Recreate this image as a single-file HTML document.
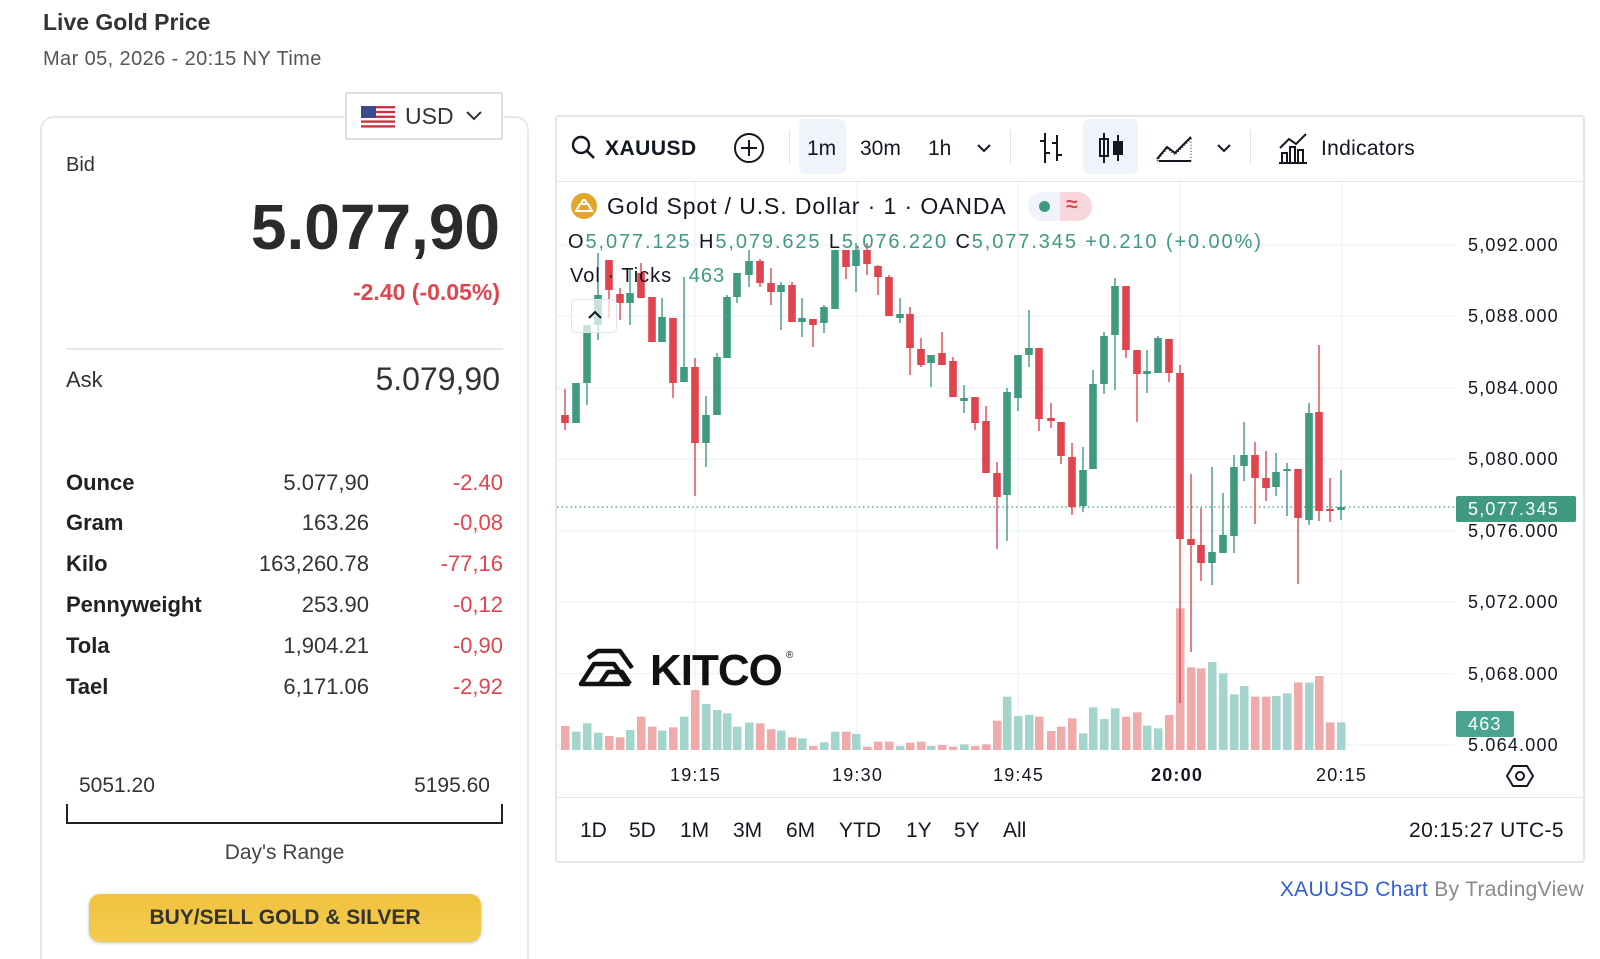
<!DOCTYPE html>
<html style="overflow:hidden;width:1600px;height:959px"><head><meta charset="utf-8">
<style>
*{margin:0;padding:0;box-sizing:border-box}
body{width:1600px;height:959px;background:#fff;font-family:"Liberation Sans",sans-serif;position:relative;overflow:hidden;color:#222}
.a{position:absolute;white-space:nowrap}
.row{position:absolute;left:66px;width:437px;height:30px;font-size:22px}
.row b{position:absolute;left:0;top:0;color:#222}
.row .v{position:absolute;right:134px;top:0;color:#333}
.row .c{position:absolute;right:0;top:0;color:#e0444f}
.tb{position:absolute;top:137px;font-size:21px;color:#131722}
.rb{position:absolute;top:819px;font-size:21px;color:#131722}
.pl{position:absolute;left:1468px;font-size:18px;color:#131722;letter-spacing:1.2px}
.tl{position:absolute;top:765px;font-size:18px;color:#131722;letter-spacing:1.2px}
</style></head><body>
<div class="a" style="left:43px;top:9px;font-size:23px;font-weight:bold;color:#333">Live Gold Price</div>
<div class="a" style="left:43px;top:48px;font-size:20px;color:#555;letter-spacing:0.4px">Mar 05, 2026 - 20:15 NY Time</div>

<div class="a" style="left:40px;top:116px;width:489px;height:843px;border:2px solid #e8e8e8;border-bottom:none;border-radius:14px 14px 0 0"></div>
<div class="a" style="left:345px;top:92px;width:158px;height:48px;border:2px solid #ddd;border-radius:3px;background:#fff">
 <svg class="a" style="left:14px;top:12px" width="34" height="24"><rect width="34" height="24" fill="#fff"/><g fill="#c8343f"><rect y="0" width="34" height="2.4"/><rect y="4.8" width="34" height="2.4"/><rect y="9.6" width="34" height="2.4"/><rect y="14.4" width="34" height="2.4"/><rect y="19.2" width="34" height="2.4"/></g><rect width="15" height="12" fill="#3a4a8c"/></svg>
 <div class="a" style="left:58px;top:9px;font-size:23px;color:#333">USD</div>
 <svg class="a" style="left:118px;top:16px" width="18" height="12"><path d="M2 2 L9 9 L16 2" stroke="#333" stroke-width="2" fill="none"/></svg>
</div>
<div class="a" style="left:66px;top:154px;font-size:20px;color:#333">Bid</div>
<div class="a" style="right:1100px;top:190px;font-size:64px;font-weight:bold;color:#2b2b2b">5.077,90</div>
<div class="a" style="right:1100px;top:279px;font-size:23px;font-weight:bold;color:#e0444f">-2.40 (-0.05%)</div>
<div class="a" style="left:66px;top:348px;width:437px;height:2px;background:#e8e8e8"></div>
<div class="a" style="left:66px;top:367px;font-size:22px;color:#333">Ask</div>
<div class="a" style="right:1100px;top:361px;font-size:32px;color:#333">5.079,90</div>

<div class="row" style="top:470px"><b>Ounce</b><span class="v">5.077,90</span><span class="c">-2.40</span></div>
<div class="row" style="top:510px"><b>Gram</b><span class="v">163.26</span><span class="c">-0,08</span></div>
<div class="row" style="top:551px"><b>Kilo</b><span class="v">163,260.78</span><span class="c">-77,16</span></div>
<div class="row" style="top:592px"><b>Pennyweight</b><span class="v">253.90</span><span class="c">-0,12</span></div>
<div class="row" style="top:633px"><b>Tola</b><span class="v">1,904.21</span><span class="c">-0,90</span></div>
<div class="row" style="top:674px"><b>Tael</b><span class="v">6,171.06</span><span class="c">-2,92</span></div>

<div class="a" style="left:79px;top:774px;font-size:21px;color:#333">5051.20</div>
<div class="a" style="right:1110px;top:774px;font-size:21px;color:#333">5195.60</div>
<div class="a" style="left:66px;top:804px;width:437px;height:20px;border:2px solid #222;border-top:none"></div>
<div class="a" style="left:0;width:569px;text-align:center;top:841px;font-size:21px;color:#444">Day's Range</div>
<div class="a" style="left:89px;top:894px;width:392px;height:48px;border-radius:11px;background:linear-gradient(#f0c23e,#f3cc4f);box-shadow:0 1px 3px rgba(0,0,0,.25);text-align:center;line-height:48px;font-size:21px;font-weight:bold;color:#333">BUY/SELL GOLD &amp; SILVER</div>

<!-- chart card -->
<div class="a" style="left:555px;top:115px;width:1030px;height:748px;border:2px solid #e6e6e6;border-radius:4px"></div>
<div class="a" style="left:557px;top:181px;width:1026px;height:1px;background:#e6e6e6"></div>
<div class="a" style="left:557px;top:797px;width:1026px;height:1px;background:#e6e6e6"></div>

<svg class="a" style="left:570px;top:134px" width="28" height="28"><circle cx="11" cy="11" r="8" stroke="#131722" stroke-width="2.4" fill="none"/><path d="M17 17 L24 24" stroke="#131722" stroke-width="2.6"/></svg>
<div class="tb" style="left:605px;font-weight:bold;width:92px;overflow:hidden;letter-spacing:0.5px">XAUUSD</div>
<svg class="a" style="left:733px;top:132px" width="32" height="32"><circle cx="16" cy="16" r="14" stroke="#131722" stroke-width="2" fill="none"/><path d="M16 8V24M8 16H24" stroke="#131722" stroke-width="2"/></svg>
<div class="a" style="left:789px;top:130px;width:1px;height:34px;background:#e0e3eb"></div>
<div class="a" style="left:799px;top:119px;width:47px;height:55px;background:#f0f3fa;border-radius:6px"></div>
<div class="tb" style="left:807px">1m</div>
<div class="tb" style="left:860px">30m</div>
<div class="tb" style="left:928px">1h</div>
<svg class="a" style="left:976px;top:142px" width="16" height="12"><path d="M2 3L8 9L14 3" stroke="#131722" stroke-width="2" fill="none"/></svg>
<div class="a" style="left:1010px;top:130px;width:1px;height:34px;background:#e0e3eb"></div>
<svg class="a" style="left:1036px;top:131px" width="30" height="34"><path d="M9 2V32M4 10H9M9 22H14M21 4V30M16 12H21M21 24H26" stroke="#131722" stroke-width="2" fill="none"/></svg>
<div class="a" style="left:1083px;top:119px;width:55px;height:55px;background:#f0f3fa;border-radius:6px"></div>
<svg class="a" style="left:1096px;top:131px" width="30" height="34"><path d="M8 2V32M22 4V30" stroke="#131722" stroke-width="2"/><rect x="4" y="8" width="8" height="17" stroke="#131722" stroke-width="2" fill="none"/><rect x="18" y="11" width="8" height="12" stroke="#131722" stroke-width="2" fill="#131722"/></svg>
<svg class="a" style="left:1155px;top:133px" width="40" height="30"><path d="M2 26L12 14L20 20L36 4" stroke="#131722" stroke-width="2" fill="none"/><path d="M2 28L12 16L20 22L36 6V28Z" fill="none" stroke="#131722" stroke-width="1" stroke-dasharray="1 2"/><path d="M4 28L36 28" stroke="#131722" stroke-width="2"/></svg>
<svg class="a" style="left:1216px;top:142px" width="16" height="12"><path d="M2 3L8 9L14 3" stroke="#131722" stroke-width="2" fill="none"/></svg>
<div class="a" style="left:1250px;top:130px;width:1px;height:34px;background:#e0e3eb"></div>
<svg class="a" style="left:1276px;top:131px" width="34" height="34"><path d="M3 32H31M6 32V22H11V32M14 32V16H19V32M22 32V19H27V32M4 17L13 8L20 13L30 3" stroke="#131722" stroke-width="2" fill="none"/></svg>
<div class="tb" style="left:1321px;letter-spacing:0.3px">Indicators</div>

<svg class="a" style="left:0;top:0" width="1600" height="959" id="ch"></svg>

<!-- legend -->
<svg class="a" style="left:570px;top:192px" width="28" height="28"><circle cx="14" cy="14" r="13" fill="#e4a62a"/><path d="M6 19L10 12H18L22 19Z M11 12 L13 8 H15 L17 12" fill="none" stroke="#fff" stroke-width="2"/></svg>
<div class="a" style="left:607px;top:193px;font-size:23px;color:#131722;letter-spacing:0.9px">Gold Spot / U.S. Dollar · 1 · OANDA</div>
<div class="a" style="left:1028px;top:192px;width:64px;height:29px;border-radius:15px;background:#f0f3fa;overflow:hidden"><div class="a" style="left:32px;top:0;width:32px;height:29px;background:#f8d7dc"></div><div class="a" style="left:11px;top:9px;width:11px;height:11px;border-radius:6px;background:#3f9a80"></div><div class="a" style="left:38px;top:1px;font-size:21px;color:#e0444f;font-weight:bold">≈</div></div>
<div class="a" style="left:568px;top:231px;font-size:20px;color:#3f9a80;letter-spacing:1.9px"><span style="color:#131722">O</span>5,077.125 <span style="color:#131722">H</span>5,079.625 <span style="color:#131722">L</span>5,076.220 <span style="color:#131722">C</span>5,077.345 +0.210 (+0.00%)</div>
<div class="a" style="left:570px;top:265px;font-size:20px;color:#131722;letter-spacing:1px">Vol · Ticks <span style="color:#3f9a80;margin-left:10px">463</span></div>
<div class="a" style="left:571px;top:299px;width:46px;height:34px;border:1px solid #e0e3eb;border-radius:5px;background:rgba(255,255,255,.7)"><svg class="a" style="left:14px;top:9px" width="18" height="12"><path d="M3 9L9 3L15 9" stroke="#131722" stroke-width="2" fill="none"/></svg></div>

<!-- price labels -->
<div class="pl" style="top:235px">5,092.000</div>
<div class="pl" style="top:306px">5,088.000</div>
<div class="pl" style="top:378px">5,084.000</div>
<div class="pl" style="top:449px">5,080.000</div>
<div class="pl" style="top:521px">5,076.000</div>
<div class="pl" style="top:592px">5,072.000</div>
<div class="pl" style="top:664px">5,068.000</div>
<div class="pl" style="top:735px;height:16px;overflow:hidden">5,064.000</div>
<div class="a" style="left:1456px;top:496px;width:120px;height:26px;background:#3f9a80;border-radius:2px;color:#fff;font-size:18px;line-height:26px;padding-left:12px;letter-spacing:1.2px">5,077.345</div>
<div class="a" style="left:1456px;top:711px;width:58px;height:26px;background:#4aa590;border-radius:2px;color:#fff;font-size:18px;line-height:26px;padding-left:12px;letter-spacing:1.2px">463</div>

<div class="tl" style="left:670px">19:15</div>
<div class="tl" style="left:832px">19:30</div>
<div class="tl" style="left:993px">19:45</div>
<div class="tl" style="left:1151px;font-weight:bold">20:00</div>
<div class="tl" style="left:1316px">20:15</div>
<svg class="a" style="left:1505px;top:763px" width="30" height="26"><path d="M8 3H22L28 13L22 23H8L2 13Z" stroke="#131722" stroke-width="2" fill="none"/><circle cx="15" cy="13" r="4" stroke="#131722" stroke-width="2" fill="none"/></svg>

<div class="rb" style="left:580px">1D</div>
<div class="rb" style="left:629px">5D</div>
<div class="rb" style="left:680px">1M</div>
<div class="rb" style="left:733px">3M</div>
<div class="rb" style="left:786px">6M</div>
<div class="rb" style="left:839px">YTD</div>
<div class="rb" style="left:906px">1Y</div>
<div class="rb" style="left:954px">5Y</div>
<div class="rb" style="left:1003px">All</div>
<div class="rb" style="right:36px;letter-spacing:0.4px">20:15:27 UTC-5</div>

<div class="a" style="right:16px;top:878px;font-size:21px;color:#8a8a8a;letter-spacing:0.3px"><span style="color:#2f5fd8">XAUUSD Chart</span> By TradingView</div>

<!-- KITCO -->
<svg class="a" style="left:578px;top:648px" width="70" height="40"><path d="M3 36L16 16H36L50 36Z M10 10L20 3H42L54 20M22 36L30 24H44L52 36" stroke="#111" stroke-width="4.5" fill="none" stroke-linejoin="round"/></svg>
<div class="a" style="left:650px;top:646px;font-size:44px;font-weight:bold;color:#111;letter-spacing:-1px">KITCO</div>
<div class="a" style="left:786px;top:650px;font-size:10px;color:#111">®</div>

<script>
var S='http://www.w3.org/2000/svg',g=document.getElementById('ch');
function el(n,a){var e=document.createElementNS(S,n);for(var k in a)e.setAttribute(k,a[k]);g.appendChild(e);return e}
[245,316.4,387.9,459.3,530.7,602.1,673.6,745].forEach(function(y){el('line',{x1:557,x2:1455,y1:y,y2:y,stroke:'#f0f3fa','stroke-width':1.5})});
[695,857,1018,1180,1342].forEach(function(x){el('line',{x1:x,x2:x,y1:182,y2:750,stroke:'#f0f3fa','stroke-width':1.5})});
var C=[
[565,415,423,389,430,'R',1488],[576,383,423,383,423,'G',1505],[587,325,383,325,405,'G',1480],[598,295,325,253,340,'G',1508],
[609,260,290,260,318,'R',1518],[620,294,303,288,320,'R',1522],[630,293,303,270,325,'G',1500],[641,273,298,263,298,'R',1460],
[652,297,342,297,342,'R',1490],[662,317,342,298,342,'G',1502],[673,318,383,318,398,'R',1492],[684,367,382,277,382,'G',1460],
[695,367,443,358,496,'R',1380],[706,415,443,396,467,'G',1422],[717,357,415,353,415,'G',1440],[727,297,358,295,358,'G',1450],
[737,273,297,273,303,'G',1490],[749,261,275,250,287,'G',1478],[760,261,283,259,287,'R',1480],[771,283,292,268,305,'R',1498],
[781,285,292,282,330,'G',1502],[792,285,322,282,322,'R',1522],[802,318,322,298,337,'G',1525],[813,319,325,319,347,'R',1548],
[824,307,323,305,333,'G',1537],[835,250,309,250,309,'G',1505],[846,250,267,250,279,'R',1505],[856,250,266,243,292,'G',1512],
[867,250,264,243,275,'R',1550],[878,266,277,265,295,'R',1535],[889,277,316,275,316,'R',1535],[900,314,318,298,323,'G',1548],
[910,314,348,307,375,'R',1538],[921,349,365,338,367,'R',1535],[931,355,363,355,387,'G',1548],[942,353,365,332,365,'R',1545],
[953,361,397,357,397,'R',1550],[964,398,401,385,413,'G',1543],[975,397,423,397,430,'R',1548],[986,421,473,406,473,'R',1543],
[997,473,497,462,549,'R',1472],[1007,392,495,388,541,'G',1400],[1018,355,398,355,411,'G',1458],[1029,348,355,310,367,'G',1455],
[1039,348,419,348,431,'R',1460],[1051,418,421,403,428,'R',1503],[1061,422,456,422,464,'R',1490],[1072,457,507,443,515,'R',1465],
[1083,470,506,447,512,'G',1510],[1093,384,469,370,469,'G',1432],[1104,336,384,332,394,'G',1467],[1115,286,335,278,390,'G',1435],
[1126,286,350,286,358,'R',1460],[1137,350,374,350,422,'R',1447],[1147,371,374,350,393,'G',1487],[1158,338,373,336,373,'G',1495],
[1169,339,373,339,382,'R',1455],[1180,373,539,365,703,'R',1135],[1191,539,545,474,652,'R',1312],[1201,545,563,508,581,'R',1315],
[1212,552,563,467,585,'G',1296],[1223,535,553,493,553,'G',1330],[1234,467,536,455,553,'G',1393],[1244,455,466,422,481,'G',1368],
[1255,455,478,442,524,'R',1400],[1266,478,488,451,501,'R',1400],[1276,472,487,453,496,'G',1398],[1287,469,471,463,516,'G',1390],
[1298,469,518,469,584,'R',1357],[1309,413,520,403,525,'G',1358],[1319,412,511,345,521,'R',1338],[1330,509,511,478,522,'R',1477],
[1341,507,510,470,520,'G',1477]];
C.forEach(function(c){var vt=230+c[6]/3;el('rect',{x:c[0]-4,y:vt,width:8.5,height:750-vt,fill:c[5]=='R'?'#f0aaaa':'#a3d5cd'})});
el('line',{x1:557,x2:1455,y1:507,y2:507,stroke:'#3f9a80','stroke-width':1.3,'stroke-dasharray':'1.5 3'});
C.forEach(function(c){var col=c[5]=='R'?'#e0444f':'#3f9a80';
el('line',{x1:c[0],x2:c[0],y1:c[3],y2:c[4],stroke:col,'stroke-width':1.4});
el('rect',{x:c[0]-3.8,y:c[1],width:7.6,height:Math.max(1.5,c[2]-c[1]),fill:col})});
</script>
</body></html>
